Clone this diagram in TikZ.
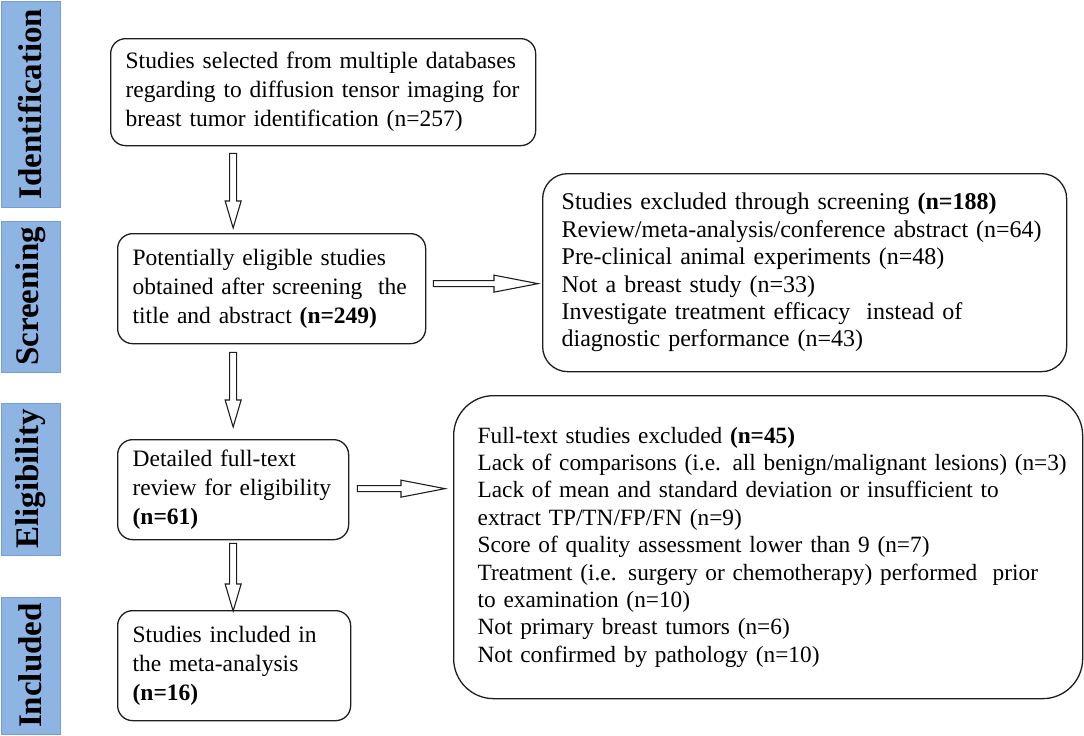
\documentclass[tikz,border=0pt]{standalone}
\usepackage{fontspec}
\setmainfont{Liberation Serif}
\usetikzlibrary{calc}
\definecolor{barfill}{RGB}{142,180,227}
\definecolor{barline}{RGB}{118,158,212}
\definecolor{boxline}{RGB}{30,30,30}
\newcommand\oneline[1]{\mbox{#1}}
\tikzset{
  sidebar/.style={draw=barline, line width=0.8pt, fill=barfill, rotate=90, inner sep=0pt,
    font=\fontsize{33}{36}\selectfont\bfseries, text=black},
  flowbox/.style={draw=boxline, line width=1.3pt, anchor=north west, align=left, inner ysep=0pt,
    font=\fontsize{23.5}{29}\selectfont},
  widebox/.style={flowbox, font=\fontsize{24}{27.4}\selectfont},
  widerbox/.style={flowbox, font=\fontsize{23.3}{27.4}\selectfont},
  blockarrow/.style={draw=boxline, line width=1.1pt, fill=white, line join=miter}
}
\newcommand\downblock[2]{%
  \draw[blockarrow] let \p1=(#1), \p2=(#2) in
    (\x1-3.5pt,\y1) -- (\x1-3.5pt,\y2+27pt) -- (\x1-8pt,\y2+27pt) -- (\x1,\y2)
    -- (\x1+8pt,\y2+27pt) -- (\x1+3.5pt,\y2+27pt) -- (\x1+3.5pt,\y1) -- cycle;}
\newcommand\rightblock[2]{%
  \draw[blockarrow] let \p1=(#1), \p2=(#2) in
    (\x1,\y1+3pt) -- (\x2-44pt,\y1+3pt) -- (\x2-44pt,\y1+8.5pt) -- (\x2,\y1)
    -- (\x2-44pt,\y1-8.5pt) -- (\x2-44pt,\y1-3pt) -- (\x1,\y1-3pt) -- cycle;}
\begin{document}
\begin{tikzpicture}[x=1pt,y=-1pt]
\useasboundingbox (0,0) rectangle (1084,736);
\fill[white] (0,0) rectangle (1084,736);

% side bars
\node[sidebar, minimum width=206pt, minimum height=59pt] (barI) at (30.5,104) {Identification};
\node[sidebar, minimum width=151pt, minimum height=59pt] (barS) at (30.5,296.5) {Screening};
\node[sidebar, minimum width=152pt, minimum height=59pt] (barE) at (30.5,479) {Eligibility};
\node[sidebar, minimum width=137pt, minimum height=59pt] (barN) at (30.5,665.5) {Included};

% left column boxes
\node[flowbox, rounded corners=15pt, text width=395pt, inner xsep=15pt, minimum height=107pt] (ident) at (110,38)
  {\oneline{Studies selected from multiple databases}\\\oneline{regarding to diffusion tensor imaging for}\\\oneline{breast tumor identification (n=257)}};
\node[flowbox, rounded corners=15pt, text width=278pt, inner xsep=15pt, minimum height=110pt] (scr) at (117,233)
  {\oneline{Potentially eligible studies}\\\oneline{obtained after screening~ the}\\\oneline{title and abstract \textbf{(n=249)}}};
\node[flowbox, rounded corners=15pt, text width=201pt, inner xsep=15pt, minimum height=100pt] (elig) at (117,439)
  {\oneline{Detailed full-text}\\\oneline{review for eligibility}\\\oneline{\textbf{(n=61)}}};
\node[flowbox, rounded corners=15pt, text width=203pt, inner xsep=15pt, minimum height=110pt] (incl) at (117,610)
  {\oneline{Studies included in}\\\oneline{the meta-analysis}\\\oneline{\textbf{(n=16)}}};

% right column boxes
\node[widebox, rounded corners=25pt, text width=486pt, inner xsep=19pt, minimum height=198pt] (excl1) at (542,173)
  {\oneline{Studies excluded through screening \textbf{(n=188)}}\\
   \oneline{Review/meta-analysis/conference abstract (n=64)}\\
   \oneline{Pre-clinical animal experiments (n=48)}\\
   \oneline{Not a breast study (n=33)}\\
   \oneline{Investigate treatment efficacy~ instead of}\\
   \oneline{diagnostic performance (n=43)}};
\node[widerbox, rounded corners=40pt, text width=581pt, inner xsep=24pt, minimum height=303pt] (excl2) at (453,395)
  {\oneline{Full-text studies excluded \textbf{(n=45)}}\\
   \oneline{Lack of comparisons (i.e. all benign/malignant lesions) (n=3)}\\
   \oneline{Lack of mean and standard deviation or insufficient to}\\
   \oneline{extract TP/TN/FP/FN (n=9)}\\
   \oneline{Score of quality assessment lower than 9 (n=7)}\\
   \oneline{Treatment (i.e. surgery or chemotherapy) performed~ prior}\\
   \oneline{to examination (n=10)}\\
   \oneline{Not primary breast tumors (n=6)}\\
   \oneline{Not confirmed by pathology (n=10)}};

% arrow anchor points
\coordinate (a1s) at ($(ident.south -| elig.north)+(0,7)$);
\coordinate (a1e) at ($(scr.north -| elig.north)+(0,-5)$);
\coordinate (a2s) at ($(scr.south -| elig.north)+(0,8)$);
\coordinate (a2e) at ($(elig.north)+(0,-12)$);
\coordinate (a3s) at ($(elig.south)+(0,3)$);
\coordinate (a3e) at ($(incl.north -| elig.north)+(0,1)$);
\coordinate (h1s) at ($(scr.east)+(7,-5)$);
\coordinate (h1e) at ($(scr.east -| excl1.west)+(-4,-5)$);
\coordinate (h2s) at ($(elig.east)+(8,-1)$);
\coordinate (h2e) at ($(elig.east -| excl2.west)+(-8,-1)$);

\downblock{a1s}{a1e}
\downblock{a2s}{a2e}
\downblock{a3s}{a3e}
\rightblock{h1s}{h1e}
\rightblock{h2s}{h2e}
\end{tikzpicture}
\end{document}
